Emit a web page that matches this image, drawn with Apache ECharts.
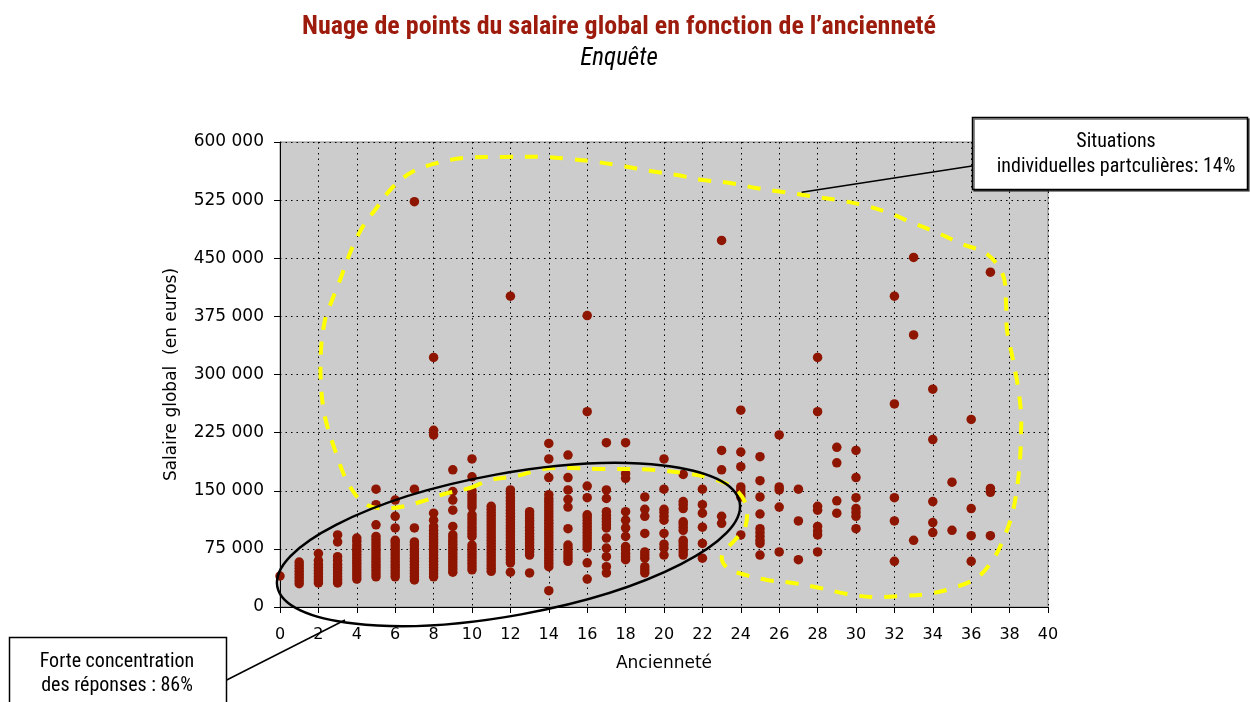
<!DOCTYPE html>
<html>
<head>
<meta charset="utf-8">
<script src="https://cdn.jsdelivr.net/npm/echarts@6/dist/echarts.min.js"></script>
<style>
html,body{margin:0;padding:0;background:#fff;}
#chart{width:1250px;height:702px;}
</style>
</head>
<body>
<div id="chart"></div>
<script>
// ---- Data (salaries in thousands of euros, grouped by seniority) ----
const titre = "Nuage de points du salaire global en fonction de l\u2019ancienneté";
const sousTitre = "Enquête";
const nomAxeX = "Ancienneté";
const nomAxeY = "Salaire global  (en euros)";
const anciennete = [0,1,2,3,4,5,6,7,8,9,10,11,12,13,14,15,16,17,18,19,20,21,22,23,24,25,26,27,28,29,30,32,33,34,35,36,37];
const salairesK = [
  [40],
  [30,34,38,42,46,50,54,58],
  [31,35,39,43,47,51,55,60,69],
  [31,35,39,43,47,51,55,60,65,84,93],
  [36,40,44,48,52,56,60,64,68,72,76,80,85,89],
  [39,43,47,51,55,59,63,67,71,75,79,83,87,91,106,132,152],
  [39,43,47,51,55,59,63,67,71,75,79,83,86,102,117,138],
  [35,39,43,47,51,55,59,63,67,71,75,80,84,102,152,523],
  [39,43,47,51,55,59,63,67,71,75,79,83,87,91,95,99,104,112,121,222,228,322],
  [45,49,53,57,61,65,69,73,77,81,85,89,93,104,125,138,149,177],
  [48,52,56,60,64,68,72,76,80,91,95,99,103,107,111,115,119,129,133,137,141,145,150,168,191],
  [46,50,54,58,62,66,70,74,78,82,86,90,94,98,102,106,110,114,118,122,126,130],
  [45,57,61,65,69,73,77,81,85,89,93,97,101,105,109,113,117,121,125,129,133,137,141,146,151,401],
  [44,67,71,75,79,83,87,91,95,99,103,107,111,115,119,123],
  [21,52,56,60,64,68,72,76,80,84,88,92,96,100,104,108,112,116,120,124,128,132,136,140,145,167,191,211],
  [59,63,67,71,76,80,101,129,139,151,167,196],
  [36,57,76,80,84,88,92,96,100,104,108,112,116,119,141,156,252,376],
  [44,52,65,76,89,102,106,110,114,118,123,140,151,212],
  [61,65,69,74,78,91,102,112,123,166,172,212],
  [44,48,52,63,67,71,95,117,126,142],
  [67,76,81,95,112,117,122,126,152,191],
  [67,71,75,79,83,86,99,103,107,110,127,132,136,171],
  [63,82,103,121,132,152],
  [108,117,177,202,473],
  [93,142,146,151,155,181,200,254],
  [67,82,86,91,96,101,120,142,163,194],
  [71,129,151,155,222],
  [61,111,152],
  [71,93,98,104,125,130,252,322],
  [121,137,186,206],
  [101,117,122,127,141,167,202],
  [59,111,141,262,401],
  [86,351,451],
  [96,109,136,216,281],
  [99,161],
  [59,92,127,242],
  [92,148,153,432]
];
const yTicks = [0,75000,150000,225000,300000,375000,450000,525000,600000];
const noteHaut = ["Situations", "individuelles partculières: 14%"];
const noteBas = ["Forte concentration", "des réponses : 86%"];

// ---- Build scatter points ----
const points = [];
anciennete.forEach((a, i) => {
  salairesK[i].forEach(s => points.push([a, s * 1000]));
});

// ---- Annotation shapes (pixel coordinates of the hand-drawn overlays) ----
const contourJaune = [
  [470,488],[490,480],[517,476],[543,469],[570,468],[600,469],[630,469],[655,470],[683,473],[710,478],
  [734,488],[746,505],[745,528],[735,540],[722,555],[727,568],[742,574],[767,580],[793,583],[820,588],
  [847,594],[873,597],[900,596],[927,594],[953,588],[978,577],[994,558],[1003,540],[1012,515],[1017,488],
  [1020,460],[1021,435],[1021,412],[1017,381],[1012,355],[1007,330],[1006,302],[1003,275],[987,254],[962,244],
  [938,233],[913,223],[889,213],[863,205],[837,200],[810,196],[783,192],[756,188],[730,183],[703,180],
  [677,175],[650,171],[623,166],[597,162],[570,159],[543,157],[503,157],[463,158],[437,163],[412,172],
  [392,188],[375,210],[362,228],[350,253],[340,280],[331,303],[325,320],[321,350],[321,385],[325,417],
  [335,450],[349,485],[367,505],[393,508],[420,502],[444,494]
];

const fmtY = v => v === 0 ? '0' : (v / 1000) + ' 000';
const narrow = "'Liberation Sans Narrow','Arial Narrow','Roboto Condensed','Liberation Sans',sans-serif";
const axisFont = "'DejaVu Sans',Verdana,sans-serif";

const chart = echarts.init(document.getElementById('chart'), null, {renderer: 'canvas'});
chart.setOption({
  backgroundColor: '#ffffff',
  animation: false,
  title: [
    {text: titre, left: 614, top: 9, textAlign: 'center',
     textStyle: {fontFamily: narrow, fontSize: 26, fontWeight: 'bold', color: '#9c1b0c'}},
    {text: sousTitre, left: 614, top: 41, textAlign: 'center',
     textStyle: {fontFamily: narrow, fontSize: 25, fontStyle: 'italic', fontWeight: 'normal', color: '#000'}}
  ],
  grid: {left: 280, right: 202, top: 142, bottom: 95, show: true,
         backgroundColor: '#cccccc', borderColor: '#8a8a8a', borderWidth: 1, containLabel: false},
  xAxis: {
    type: 'value', min: 0, max: 40, interval: 2,
    name: nomAxeX, nameLocation: 'middle', nameGap: 48,
    nameTextStyle: {fontFamily: axisFont, fontSize: 17, color: '#000'},
    axisLine: {show: true, onZero: false, lineStyle: {color: '#000', width: 1}},
    axisTick: {show: true, inside: false, length: 6, lineStyle: {color: '#000'}},
    axisLabel: {fontFamily: axisFont, fontSize: 16, color: '#000', margin: 20, showMaxLabel: true},
    splitLine: {show: true, lineStyle: {color: '#000', type: [1.5, 4], width: 1}}
  },
  yAxis: {
    type: 'value', min: 0, max: 600000, interval: 75000,
    name: nomAxeY, nameLocation: 'middle', nameGap: 100,
    nameTextStyle: {fontFamily: axisFont, fontSize: 17, color: '#000'},
    axisLine: {show: true, onZero: false, lineStyle: {color: '#000', width: 1}},
    axisTick: {show: true, inside: false, length: 6, lineStyle: {color: '#000'}},
    axisLabel: {fontFamily: axisFont, fontSize: 17, color: '#000', margin: 16, formatter: fmtY},
    splitLine: {show: true, lineStyle: {color: '#000', type: [1.5, 4], width: 1}}
  },
  series: [{
    type: 'scatter', data: points, symbol: 'circle', symbolSize: 9.5,
    itemStyle: {color: '#8e1500', opacity: 1}, z: 3
  }],
  graphic: [
    {type: 'polygon', z: 100, silent: true,
     shape: {points: contourJaune, smooth: 0.35},
     style: {fill: null, stroke: '#ffff00', lineWidth: 4, lineDash: [13, 12]}},
    {type: 'ellipse', z: 101, silent: true, x: 508.5, y: 544.5, rotation: 10.3 * Math.PI / 180,
     shape: {cx: 0, cy: 0, rx: 235, ry: 71},
     style: {fill: null, stroke: '#000', lineWidth: 2.5}},
    {type: 'line', z: 102, silent: true, shape: {x1: 801.7, y1: 192.3, x2: 972, y2: 166},
     style: {stroke: '#000', lineWidth: 1.5}},
    {type: 'rect', z: 103, silent: true, shape: {x: 972.5, y: 117.5, width: 275, height: 72},
     style: {fill: '#fff', stroke: '#000', lineWidth: 1.5, shadowColor: 'rgba(0,0,0,0.6)', shadowOffsetX: 1.5, shadowOffsetY: 1.5}},
    {type: 'text', z: 104, silent: true, x: 1116, y: 142,
     style: {text: noteHaut[0], fontFamily: narrow, fontSize: 20, fill: '#000', align: 'center', verticalAlign: 'middle'}},
    {type: 'text', z: 104, silent: true, x: 1116, y: 167,
     style: {text: noteHaut[1], fontFamily: narrow, fontSize: 20, fill: '#000', align: 'center', verticalAlign: 'middle'}},
    {type: 'line', z: 102, silent: true, shape: {x1: 226.7, y1: 680, x2: 345, y2: 620},
     style: {stroke: '#000', lineWidth: 1.5}},
    {type: 'rect', z: 103, silent: true, shape: {x: 9.5, y: 637.5, width: 217, height: 80},
     style: {fill: '#fff', stroke: '#000', lineWidth: 1.5}},
    {type: 'text', z: 104, silent: true, x: 117, y: 662,
     style: {text: noteBas[0], fontFamily: narrow, fontSize: 20, fill: '#000', align: 'center', verticalAlign: 'middle'}},
    {type: 'text', z: 104, silent: true, x: 117, y: 686,
     style: {text: noteBas[1], fontFamily: narrow, fontSize: 20, fill: '#000', align: 'center', verticalAlign: 'middle'}}
  ]
});
</script>
</body>
</html>
